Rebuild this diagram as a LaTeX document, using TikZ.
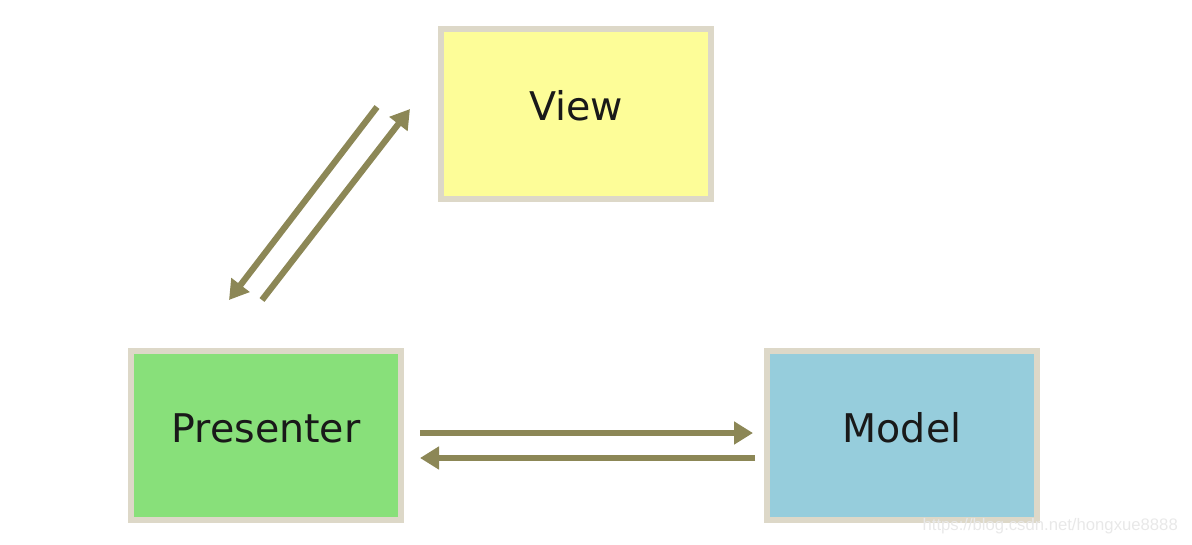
\documentclass[tikz,border=0pt]{standalone}
\usepackage{fontspec}
\setmainfont{DejaVu Sans}
\newfontfamily\markfont{Liberation Sans}
\usetikzlibrary{arrows.meta}
\definecolor{framegray}{HTML}{DDD8C8}
\definecolor{viewfill}{HTML}{FDFD98}
\definecolor{presfill}{HTML}{88E07A}
\definecolor{modelfill}{HTML}{96CDDC}
\definecolor{arrowolive}{HTML}{8C8756}

\begin{document}
\begin{tikzpicture}[x=0.02cm,y=-0.02cm,
    box/.style={draw=framegray,line width=0.12cm,minimum width=5.4cm,minimum height=3.4cm,text height=0.6cm,text depth=0.32cm,text=black!90,font=\fontsize{22.5}{26}\selectfont},
    link/.style={arrowolive,line width=0.125cm,-{Triangle[width=0.44cm,length=0.38cm]}}]
                \useasboundingbox (0,0) rectangle (1192,544);
                \node[box,fill=viewfill] (view) at (576,114) {View};
                \node[box,fill=presfill] (presenter) at (266,435.5) {Presenter};
                \node[box,fill=modelfill] (model) at (902,435.5) {Model};
                \coordinate (v1) at (377,107);
                \coordinate (p1) at (229,300);
                \coordinate (p2) at (262,300);
                \coordinate (v2) at (410,109);
                \coordinate (pm1) at (420,433);
                \coordinate (mp1) at (753,433);
                \coordinate (mp2) at (755,458);
                \coordinate (pm2) at (420,458);
                \draw[link] (v1)--(p1);
                \draw[link] (p2)--(v2);
                \draw[link] (pm1)--(mp1);
                \draw[link] (mp2)--(pm2);
                \node[text=black!9,font=\markfont\fontsize{9.5}{11}\selectfont,anchor=east] (mark) at (1184,526) {https://blog.csdn.net/hongxue8888};
            \end{tikzpicture}
\end{document}
